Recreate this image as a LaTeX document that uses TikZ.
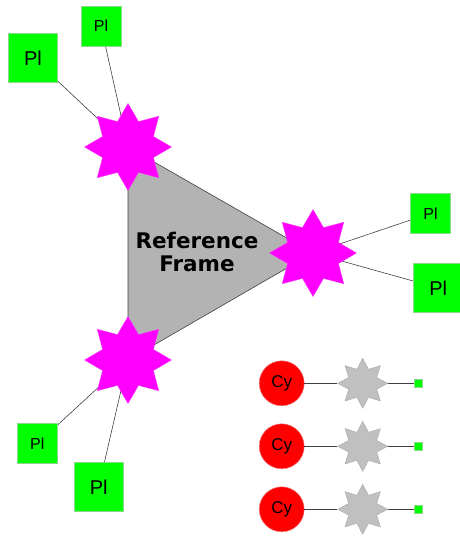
\documentclass[tikz,border=0pt]{standalone}
\usepackage{fontspec}
\setmainfont{Liberation Sans}
\newfontfamily\framefont{DejaVu Sans}
\usetikzlibrary{shapes.geometric,backgrounds}
\definecolor{plgreen}{HTML}{00FF00}
\definecolor{plborder}{HTML}{8CD98C}
\definecolor{mag}{HTML}{FF00FF}
\definecolor{trifill}{HTML}{B3B3B3}
\definecolor{linecol}{HTML}{404040}
\definecolor{gstar}{HTML}{C0C0C0}
\definecolor{gstarb}{HTML}{A8A8A8}
\definecolor{cyred}{HTML}{FF0000}
\definecolor{cyborder}{HTML}{F08080}
\tikzset{
  bigstar/.style={star, star points=8, star point ratio=1.58, minimum size=87pt, inner sep=0pt, fill=mag, draw=mag!80!white, line width=0.3pt},
  smallstar/.style={star, star points=8, star point ratio=1.65, minimum size=50pt, inner sep=0pt, fill=gstar, draw=gstarb, line width=0.4pt},
  plbig/.style={rectangle, minimum size=49pt, inner sep=0pt, fill=plgreen, draw=plborder, line width=0.5pt, font=\fontsize{20}{20}\selectfont},
  plsmall/.style={rectangle, minimum size=40pt, inner sep=0pt, fill=plgreen, draw=plborder, line width=0.5pt, font=\fontsize{16}{16}\selectfont},
  cycirc/.style={circle, minimum size=45pt, inner sep=0pt, fill=cyred, draw=cyborder, line width=0.5pt, font=\fontsize{17}{17}\selectfont},
  tinysq/.style={rectangle, minimum size=8pt, inner sep=0pt, fill=plgreen, draw=plborder, line width=0.4pt},
  conn/.style={draw=linecol, line width=0.6pt},
  tri/.style={fill=trifill, draw=linecol, line width=0.6pt}
}
\begin{document}
\begin{tikzpicture}[x=1pt,y=-1pt]
\useasboundingbox (0,0) rectangle (459,536);
% main stars
\node[bigstar] (s1) at (128,147) {};
\node[bigstar] (s2) at (313,253) {};
\node[bigstar] (s3) at (128,360) {};
% plane boxes
\node[plbig] (p1) at (33,58) {Pl};
\node[plsmall] (p2) at (101,26) {Pl};
\node[plsmall] (p3) at (430.5,213.3) {Pl};
\node[plbig] (p4) at (438.2,288) {Pl};
\node[plsmall] (p5) at (37.3,443.7) {Pl};
\node[plbig] (p6) at (98.7,487) {Pl};
% reference frame label
\node[font=\framefont\bfseries\fontsize{21.5}{23}\selectfont, align=center] (rf) at (197,252) {Reference\\Frame};
% cylinders
\foreach \i/\y in {1/383.3, 2/446.3, 3/509.3} {
  \node[cycirc] (c\i) at (281.7,\y) {Cy};
  \node[smallstar] (g\i) at (362.7,\y) {};
  \node[tinysq] (q\i) at (417.7,\y) {};
  \draw[conn] (c\i) -- (g\i);
  \draw[conn] (g\i) -- (q\i);
}
\begin{scope}[on background layer]
  \draw[tri] (s1.center) -- (s2.center) -- (s3.center) -- cycle;
  \draw[conn] (p1) -- (s1.center);
  \draw[conn] (p2) -- (s1.center);
  \draw[conn] (p3) -- (s2.center);
  \draw[conn] (p4) -- (s2.center);
  \draw[conn] (p5) -- (s3.center);
  \draw[conn] (p6) -- (s3.center);
\end{scope}
\end{tikzpicture}
\end{document}
